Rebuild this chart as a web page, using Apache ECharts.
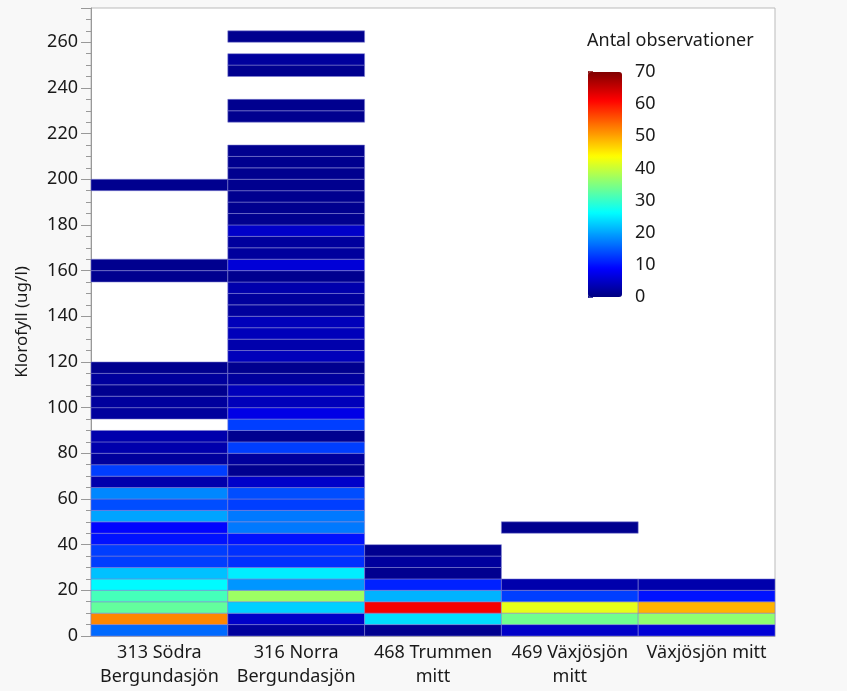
<!DOCTYPE html>
<html>
<head>
<meta charset="utf-8">
<script src="https://cdn.jsdelivr.net/npm/echarts@6/dist/echarts.min.js"></script>
<style>
  html, body { margin: 0; padding: 0; background: #f8f8f8; }
  #echarts { width: 847px; height: 691px; }
</style>
</head>
<body>
<div id="echarts"></div>
<script type="text/javascript">
	// bins of 5 ug/l, index 0 = 0-5, 1 = 5-10 ...
	var BIN = 5;
	var stations = ['313 Södra\nBergundasjön', '316 Norra\nBergundasjön', '468 Trummen\nmitt', '469 Växjösjön\nmitt', 'Växjösjön mitt'];
	var sodra = [16, 52, 33, 31, 26, 22, 13, 13, 10, 9, 20, 14, 18, 3, 13, 2, 3, 3, 0, 2,
		2, 1, 2, 1, 0, 0, 0, 0, 0, 0, 0, 1, 1, 0, 0, 0, 0, 0, 0, 1];
	var norra = [2, 5, 23, 37, 19, 25, 12, 12, 10, 17, 17, 13, 14, 5, 1, 2, 13, 1, 13, 7,
		4, 4, 2, 1, 4, 3, 4, 4, 2, 2, 3, 1, 6, 2, 2, 5, 1, 1, 1, 1,
		1, 1, 1, 0, 0, 1, 1, 0, 0, 1, 2, 0, 1];
	var trummen = [1, 24, 62, 21, 11, 1, 2, 1];
	var vaxjo469 = [5, 34, 42, 13, 3, 0, 0, 0, 0, 1];
	var vaxjoMitt = [6, 36, 49, 10, 3];
	var yTicks = { min: 0, max: 275, interval: 20 };
	var countTicks = { min: 0, max: 70, interval: 10 };

	var jet = ['#000080', '#0000ff', '#0080ff', '#00ffff', '#80ff80', '#ffff00', '#ff8000', '#ff0000', '#800000'];

	var data = [];
	[sodra, norra, trummen, vaxjo469, vaxjoMitt].forEach(function (arr, i) {
		arr.forEach(function (n, b) {
			if (n > 0) data.push([i, b * BIN, n]);
		});
	});

	function renderItem(params, api) {
		var x = api.value(0), y0 = api.value(1);
		var p0 = api.coord([x, y0]);
		var p1 = api.coord([x, y0 + BIN]);
		var w = api.size([1, 0])[0];
		return {
			type: 'rect',
			shape: { x: p0[0] - w / 2, y: p1[1], width: w, height: p0[1] - p1[1] },
			style: { fill: api.visual('color'), stroke: 'rgba(130,130,210,0.55)', lineWidth: 1 }
		};
	}

	// gradient for the colour bar ticks (pixel coords)
	var barTop = 72, barH = 225;
	var tickGrad = {
		type: 'linear', global: true, x: 0, y: barTop + barH, x2: 0, y2: barTop,
		colorStops: jet.map(function (c, i) { return { offset: i / (jet.length - 1), color: c }; })
	};

	var FONT = 'Noto Sans';
	var thechart = echarts.init(document.getElementById('echarts'));
	var theoption = {
		backgroundColor: '#f8f8f8',
		textStyle: { fontFamily: FONT },
		title: {
			text: 'Antal observationer',
			left: 582, top: 27,
			textStyle: { fontFamily: FONT, fontSize: 18, fontWeight: 'normal', color: '#1a1a1a' }
		},
		grid: [
			{ left: 91, right: 72, top: 8, bottom: 55, show: true, backgroundColor: '#fff', borderColor: '#bbb', borderWidth: 1 },
			{ left: 588, top: barTop, width: 34, height: barH }
		],
		xAxis: [
			{
				type: 'category', gridIndex: 0, data: stations,
				axisLine: { lineStyle: { color: '#aaa' } },
				axisTick: { show: false },
				axisLabel: { color: '#1a1a1a', fontSize: 18, lineHeight: 24, margin: 5, interval: 0 }
			},
			{ type: 'value', gridIndex: 1, show: false, min: 0, max: 1 }
		],
		yAxis: [
			{
				type: 'value', gridIndex: 0,
				min: yTicks.min, max: yTicks.max, interval: yTicks.interval,
				name: 'Klorofyll (ug/l)', nameLocation: 'middle', nameGap: 60,
				nameTextStyle: { color: '#1a1a1a', fontSize: 17 },
				axisLine: { show: true, lineStyle: { color: '#999' } },
				axisTick: { show: true, length: 10, lineStyle: { color: '#999' } },
				minorTick: { show: true, splitNumber: 4, length: 5, lineStyle: { color: '#999' } },
				splitLine: { show: false },
				axisLabel: { color: '#1a1a1a', fontSize: 18, margin: 13, showMaxLabel: false }
			},
			{
				type: 'value', gridIndex: 1, position: 'right',
				min: countTicks.min, max: countTicks.max, interval: countTicks.interval,
				axisLine: { show: true, lineStyle: { color: tickGrad, width: 1 } },
				axisTick: { show: true, inside: false, length: 5, lineStyle: { color: tickGrad, width: 1.5 } },
				splitLine: { show: false },
				axisLabel: { color: '#1a1a1a', fontSize: 18, margin: 13 }
			}
		],
		visualMap: {
			type: 'continuous',
			min: countTicks.min, max: countTicks.max,
			dimension: 2, seriesIndex: 0,
			calculable: false, hoverLink: false,
			left: 588, top: barTop, padding: 0,
			itemWidth: 34, itemHeight: barH,
			inRange: { color: jet }
		},
		series: [
			{
				type: 'custom',
				xAxisIndex: 0, yAxisIndex: 0,
				renderItem: renderItem,
				encode: { x: 0, y: 1 },
				data: data
			}
		]
	};
	thechart.setOption(theoption, true);
</script>
</body>
</html>
